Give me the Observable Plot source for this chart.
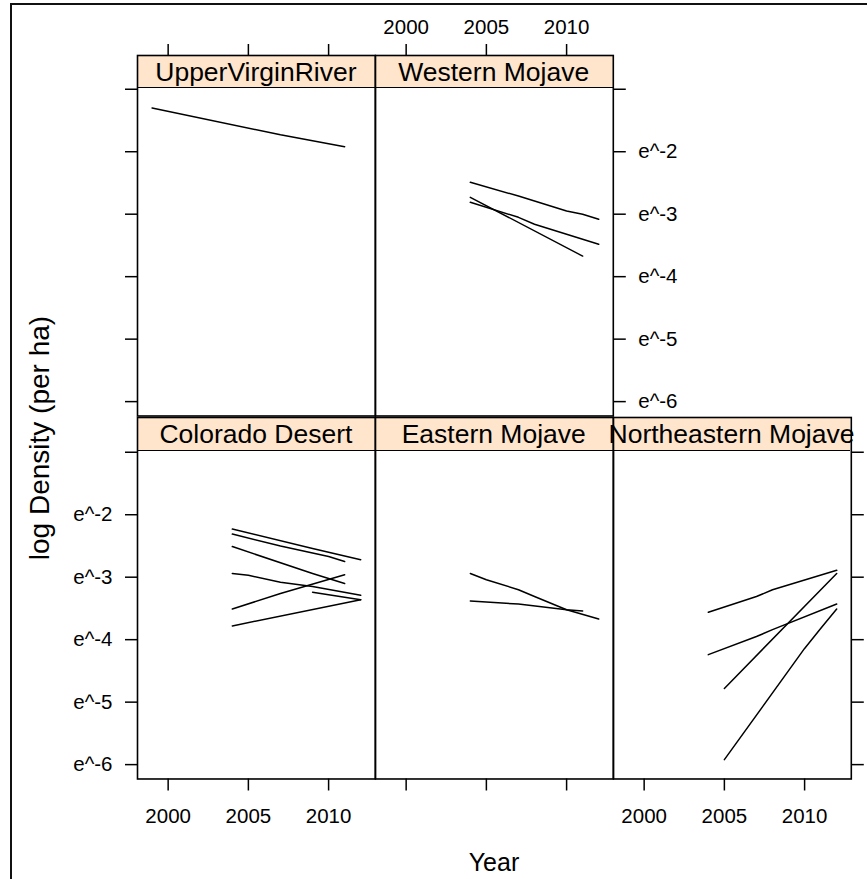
<!DOCTYPE html>
<html>
<head>
<meta charset="utf-8">
<script src="https://cdn.jsdelivr.net/npm/d3@7"></script>
<script src="https://cdn.jsdelivr.net/npm/@observablehq/plot@0.6"></script>
<style>
  html, body { margin: 0; padding: 0; background: #fff; }
  #chart { position: relative; width: 867px; height: 879px; overflow: hidden;
           font-family: "Liberation Sans", Arial, Helvetica, sans-serif; color: #000; }
  .outer { position: absolute; left: 10px; top: 3px; width: 1000px; height: 1000px;
           border-left: 2px solid #111; border-top: 2px solid #111; }
  .strip { position: absolute; background: #ffe5cc; box-sizing: border-box;
           border-bottom: 1.6px solid #000; display: flex; align-items: center;
           justify-content: center; white-space: nowrap; font-size: 26.5px; line-height: 1; padding-top: 3px; }
  .panel { position: absolute; }
  .panel g[aria-label*="axis"] line, .panel g[aria-label*="axis"] path { stroke-width: 1.5px; }
  .ylab { position: absolute; left: 40px; top: 438px; transform: translate(-50%, -50%) rotate(-90deg);
          white-space: nowrap; font-size: 28px; }
  .xlab { position: absolute; left: 494px; top: 862px; transform: translate(-50%, -50%);
          white-space: nowrap; font-size: 25px; }
</style>
</head>
<body>
<div id="chart"></div>
<script>
// ---------------- data ----------------
const panelNames = ["UpperVirginRiver", "Western Mojave", "Colorado Desert", "Eastern Mojave", "Northeastern Mojave"];
const yearTicks = [2000, 2005, 2010];
const logTicks = [-1, -2, -3, -4, -5, -6];
const logTickLabels = ["", "e^-2", "e^-3", "e^-4", "e^-5", "e^-6"];
const xTitle = "Year";
const yTitle = "log Density (per ha)";

// each series: [year, log density]
const upperVirginRiver = [
  [[1999, -1.30], [2007, -1.73], [2011, -1.92]]
];
const westernMojave = [
  [[2004, -2.49], [2007, -2.71], [2010, -2.95], [2011, -3.00], [2012, -3.08]],
  [[2004, -2.81], [2007, -3.05], [2008, -3.16], [2012, -3.48]],
  [[2004, -2.73], [2011, -3.67]]
];
const coloradoDesert = [
  [[2004, -2.23], [2009, -2.54], [2012, -2.72]],
  [[2004, -2.31], [2007, -2.50], [2010, -2.67], [2011, -2.75]],
  [[2004, -2.51], [2009, -2.94], [2011, -3.10]],
  [[2004, -2.94], [2005, -2.97], [2007, -3.08], [2009, -3.15], [2012, -3.29]],
  [[2004, -3.51], [2007, -3.26], [2011, -2.96]],
  [[2004, -3.78], [2012, -3.36]],
  [[2009, -3.24], [2010, -3.28], [2012, -3.36]]
];
const easternMojave = [
  [[2004, -2.94], [2005, -3.04], [2007, -3.20], [2008, -3.31], [2010, -3.52], [2012, -3.67]],
  [[2004, -3.38], [2007, -3.43], [2010, -3.52], [2011, -3.54]]
];
const northeasternMojave = [
  [[2004, -3.56], [2007, -3.31], [2008, -3.20], [2012, -2.89]],
  [[2004, -4.24], [2007, -3.95], [2008, -3.84], [2012, -3.43]],
  [[2005, -4.78], [2012, -2.94]],
  [[2005, -5.92], [2010, -4.14], [2011, -3.82], [2012, -3.51]]
];
const panelSeries = [upperVirginRiver, westernMojave, coloradoDesert, easternMojave, northeasternMojave];

// ---------------- layout ----------------
const xDomain = [1998.09, 2012.91];
const yDomain = [-6.23, -0.98];
const colX0 = [137, 374.8, 612.6];
const colW = 237.8;
const rowsLayout = [ {s0: 55, p0: 87.5, p1: 415.5}, {s0: 416.5, p0: 450, p1: 778} ];
// panel index -> [row, col, xAxis, xLabels, yAxis, yLabels]
const panelPos = [
  [0, 0, "top", false, "left", false],
  [0, 1, "top", true, "right", true],
  [1, 0, "bottom", true, "left", true],
  [1, 1, "bottom", false, null, false],
  [1, 2, "bottom", true, "right", false]
];

const chart = document.getElementById("chart");
const outer = document.createElement("div");
outer.className = "outer";
chart.appendChild(outer);

const M = 80;
panelNames.forEach((name, i) => {
  const [r, c, xAxis, xLab, yAxis, yLab] = panelPos[i];
  const L = rowsLayout[r];
  const x0 = colX0[c], w = colW, h = L.p1 - L.s0;

  const strip = document.createElement("div");
  strip.className = "strip";
  strip.style.left = x0 + "px";
  strip.style.top = L.s0 + "px";
  strip.style.width = w + "px";
  strip.style.height = (L.p0 - L.s0 + 0.8) + "px";
  strip.textContent = name;
  chart.appendChild(strip);

  const rows = panelSeries[i].flatMap((s, k) => s.map(([year, v]) => ({year, v, series: k})));

  const svg = Plot.plot({
    width: w + 2 * M,
    height: h + 2 * M,
    marginLeft: M, marginRight: M, marginTop: M, marginBottom: M,
    style: {fontFamily: '"Liberation Sans", Arial, sans-serif', fontSize: "20.5px", color: "#000",
            background: "none", overflow: "visible"},
    x: {domain: xDomain, ticks: yearTicks, tickSize: 12,
        tickPadding: xAxis === "top" ? 9 : 17,
        tickFormat: xLab ? (d => String(d)) : (() => ""),
        axis: xAxis, label: null},
    y: {domain: yDomain, range: [h + M, L.p0 - L.s0 + M], ticks: logTicks, tickSize: 12,
        tickPadding: 13,
        tickFormat: yLab ? (d => logTickLabels[logTicks.indexOf(d)] ?? "") : (() => ""),
        axis: yAxis, label: null},
    marks: [
      Plot.line(rows, {x: "year", y: "v", z: "series", stroke: "#000", strokeWidth: 1.5}),
      Plot.frame({stroke: "#000", strokeWidth: 1.6})
    ]
  });
  svg.classList.add("panel");
  svg.style.position = "absolute";
  svg.style.left = (x0 - M) + "px";
  svg.style.top = (L.s0 - M) + "px";
  chart.appendChild(svg);
});

const ylab = document.createElement("div");
ylab.className = "ylab";
ylab.textContent = yTitle;
chart.appendChild(ylab);
const xlab = document.createElement("div");
xlab.className = "xlab";
xlab.textContent = xTitle;
chart.appendChild(xlab);
</script>
</body>
</html>
